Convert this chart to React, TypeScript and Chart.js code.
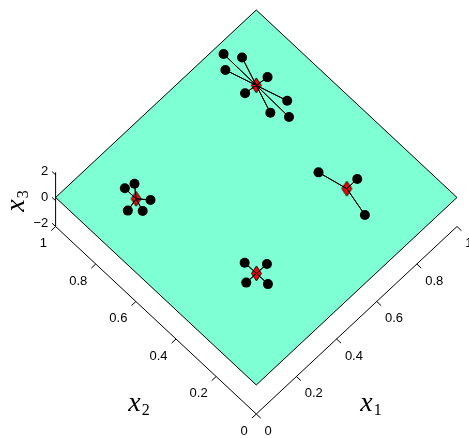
import React, { useEffect, useRef } from "react";
import { Chart, registerables } from "chart.js";

Chart.register(...registerables);

// Cluster members on the plane (x1, x2)
const clusterA_x1 = [0.801, 0.838, 0.763, 0.849, 0.75, 0.835, 0.761, 0.796];
const clusterA_x2 = [0.964, 0.909, 0.917, 0.793, 0.806, 0.681, 0.691, 0.633];
const clusterB_x1 = [0.197, 0.233, 0.23, 0.145, 0.181];
const clusterB_x2 = [0.852, 0.84, 0.757, 0.785, 0.747];
const clusterC_x1 = [0.297, 0.349, 0.248, 0.298];
const clusterC_x2 = [0.355, 0.296, 0.298, 0.24];
const clusterD_x1 = [0.722, 0.801, 0.724];
const clusterD_x2 = [0.412, 0.298, 0.183];

// Cluster centres
const centreX1 = [0.799, 0.197, 0.298, 0.749];
const centreX2 = [0.799, 0.796, 0.297, 0.298];

// Height of the plane and range of the vertical axis
const planeZ = 0.25;
const zLim = [-2, 2.2];

// Axis ticks
const x1Ticks = [0, 0.2, 0.4, 0.6, 0.8, 1];
const x1TickLabels = ["0", "0.2", "0.4", "0.6", "0.8", "1"];
const x2Ticks = [0, 0.2, 0.4, 0.6, 0.8, 1];
const x2TickLabels = ["0", "0.2", "0.4", "0.6", "0.8", "1"];
const zTicks = [-2, 0, 2];
const zTickLabels = ["\u22122", "0", "2"];

// Oblique top-down view: horizontal = x1 - x2, vertical = x1 + x2 + KZ * z
const KZ = 0.0688;
const project = (x1: number, x2: number, z: number) => ({
  x: x1 - x2,
  y: x1 + x2 + KZ * z,
});

const clusters = [
  [clusterA_x1, clusterA_x2],
  [clusterB_x1, clusterB_x2],
  [clusterC_x1, clusterC_x2],
  [clusterD_x1, clusterD_x2],
];

const TICK_LEN = 0.022;
const TICK_FONT = '13px "Liberation Sans", Arial, sans-serif';
const TITLE_FONT = 'italic 28px "Liberation Serif", "DejaVu Serif", serif';
const SUB_FONT = '16px "Liberation Serif", "DejaVu Serif", serif';

function makeDiamond(): HTMLCanvasElement {
  const c = document.createElement("canvas");
  c.width = 13;
  c.height = 17;
  const g = c.getContext("2d")!;
  g.beginPath();
  g.moveTo(6.5, 1);
  g.lineTo(11.5, 8.5);
  g.lineTo(6.5, 16);
  g.lineTo(1.5, 8.5);
  g.closePath();
  g.fillStyle = "#ff0000";
  g.fill();
  g.lineWidth = 0.9;
  g.strokeStyle = "#000000";
  g.stroke();
  return c;
}

const boxPlugin = {
  id: "boxPlugin",
  beforeDatasetsDraw(chart: any) {
    const ctx: CanvasRenderingContext2D = chart.ctx;
    const sx = chart.scales.x;
    const sy = chart.scales.y;
    const px = (x1: number, x2: number, z: number): [number, number] => {
      const p = project(x1, x2, z);
      return [sx.getPixelForValue(p.x), sy.getPixelForValue(p.y)];
    };
    const seg = (a: [number, number], b: [number, number]) => {
      ctx.beginPath();
      ctx.moveTo(a[0], a[1]);
      ctx.lineTo(b[0], b[1]);
      ctx.stroke();
    };
    ctx.save();

    // plane
    const corners = [
      px(0, 0, planeZ),
      px(1, 0, planeZ),
      px(1, 1, planeZ),
      px(0, 1, planeZ),
    ];
    ctx.beginPath();
    corners.forEach((c, i) => (i ? ctx.lineTo(c[0], c[1]) : ctx.moveTo(c[0], c[1])));
    ctx.closePath();
    ctx.fillStyle = "#7fffd4";
    ctx.fill();
    ctx.strokeStyle = "#000000";
    ctx.lineWidth = 1;
    ctx.stroke();

    const zMin = zLim[0];
    ctx.font = TICK_FONT;
    ctx.fillStyle = "#000000";
    ctx.textBaseline = "middle";

    // x1 axis
    seg(px(0, 0, zMin), px(1, 0, zMin));
    ctx.textAlign = "left";
    x1Ticks.forEach((t, i) => {
      const a = px(t, 0, zMin);
      seg(a, px(t, -TICK_LEN, zMin));
      ctx.fillText(x1TickLabels[i], a[0] + 8.3, a[1] + 17);
    });

    // x2 axis
    seg(px(0, 0, zMin), px(0, 1, zMin));
    ctx.textAlign = "right";
    x2Ticks.forEach((t, i) => {
      const a = px(0, t, zMin);
      seg(a, px(-TICK_LEN, t, zMin));
      ctx.fillText(x2TickLabels[i], a[0] - 8.5, a[1] + 17);
    });

    // x3 axis
    seg(px(0, 1, zLim[0]), px(0, 1, zLim[1]));
    ctx.textAlign = "right";
    zTicks.forEach((t, i) => {
      const a = px(0, 1, t);
      seg(a, px(0, 1 + TICK_LEN * 0.8, t));
      ctx.fillText(zTickLabels[i], a[0] - 7.3, a[1] - 3);
    });

    // axis titles
    ctx.textBaseline = "alphabetic";
    ctx.textAlign = "left";
    const title = (x: number, y: number, sub: string) => {
      ctx.font = TITLE_FONT;
      ctx.fillText("x", x, y);
      const w = ctx.measureText("x").width;
      ctx.font = SUB_FONT;
      ctx.fillText(sub, x + w + 1, y + 4);
    };
    const origin = px(0, 0, zMin);
    title(origin[0] + 104, origin[1] - 3, "1");
    title(origin[0] - 128, origin[1] - 3, "2");
    const o3 = px(0, 1, 0);
    ctx.save();
    ctx.translate(o3[0] - 32, o3[1] + 11);
    ctx.rotate(-Math.PI / 2);
    title(0, 0, "3");
    ctx.restore();

    ctx.restore();
  },
};

export default function App() {
  const ref = useRef<HTMLCanvasElement>(null);

  useEffect(() => {
    document.body.style.margin = "0";
    const spokes = clusters.map(([xs1, xs2], k) => {
      const c = project(centreX1[k], centreX2[k], planeZ);
      const pts: { x: number; y: number }[] = [];
      xs1.forEach((v, i) => {
        pts.push(c);
        pts.push(project(v, xs2[i], planeZ));
      });
      pts.push(c);
      return {
        data: pts,
        showLine: true,
        borderColor: "#000000",
        borderWidth: 1,
        pointRadius: 0,
        fill: false,
      };
    });
    const members: { x: number; y: number }[] = [];
    clusters.forEach(([xs1, xs2]) =>
      xs1.forEach((v, i) => members.push(project(v, xs2[i], planeZ)))
    );
    const centres = centreX1.map((v, k) => project(v, centreX2[k], planeZ));

    const chart = new Chart(ref.current!, {
      type: "scatter",
      data: {
        datasets: [
          ...spokes,
          {
            data: members,
            pointRadius: 5,
            pointBackgroundColor: "#000000",
            pointBorderWidth: 0,
          },
          {
            data: centres,
            pointStyle: makeDiamond(),
            pointRadius: 6,
          },
        ] as any,
      },
      options: {
        animation: false,
        responsive: false,
        events: [],
        layout: { padding: 0, autoPadding: false },
        plugins: { legend: { display: false }, tooltip: { enabled: false } },
        scales: {
          x: { type: "linear", display: false, min: -1.277, max: 1.0598 },
          y: { type: "linear", display: false, min: -0.2656, max: 2.0704 },
        },
      },
      plugins: [boxPlugin],
    });
    return () => chart.destroy();
  }, []);

  return (
    <div style={{ width: 469, height: 438, background: "#ffffff" }}>
      <canvas ref={ref} width={469} height={438} />
    </div>
  );
}
